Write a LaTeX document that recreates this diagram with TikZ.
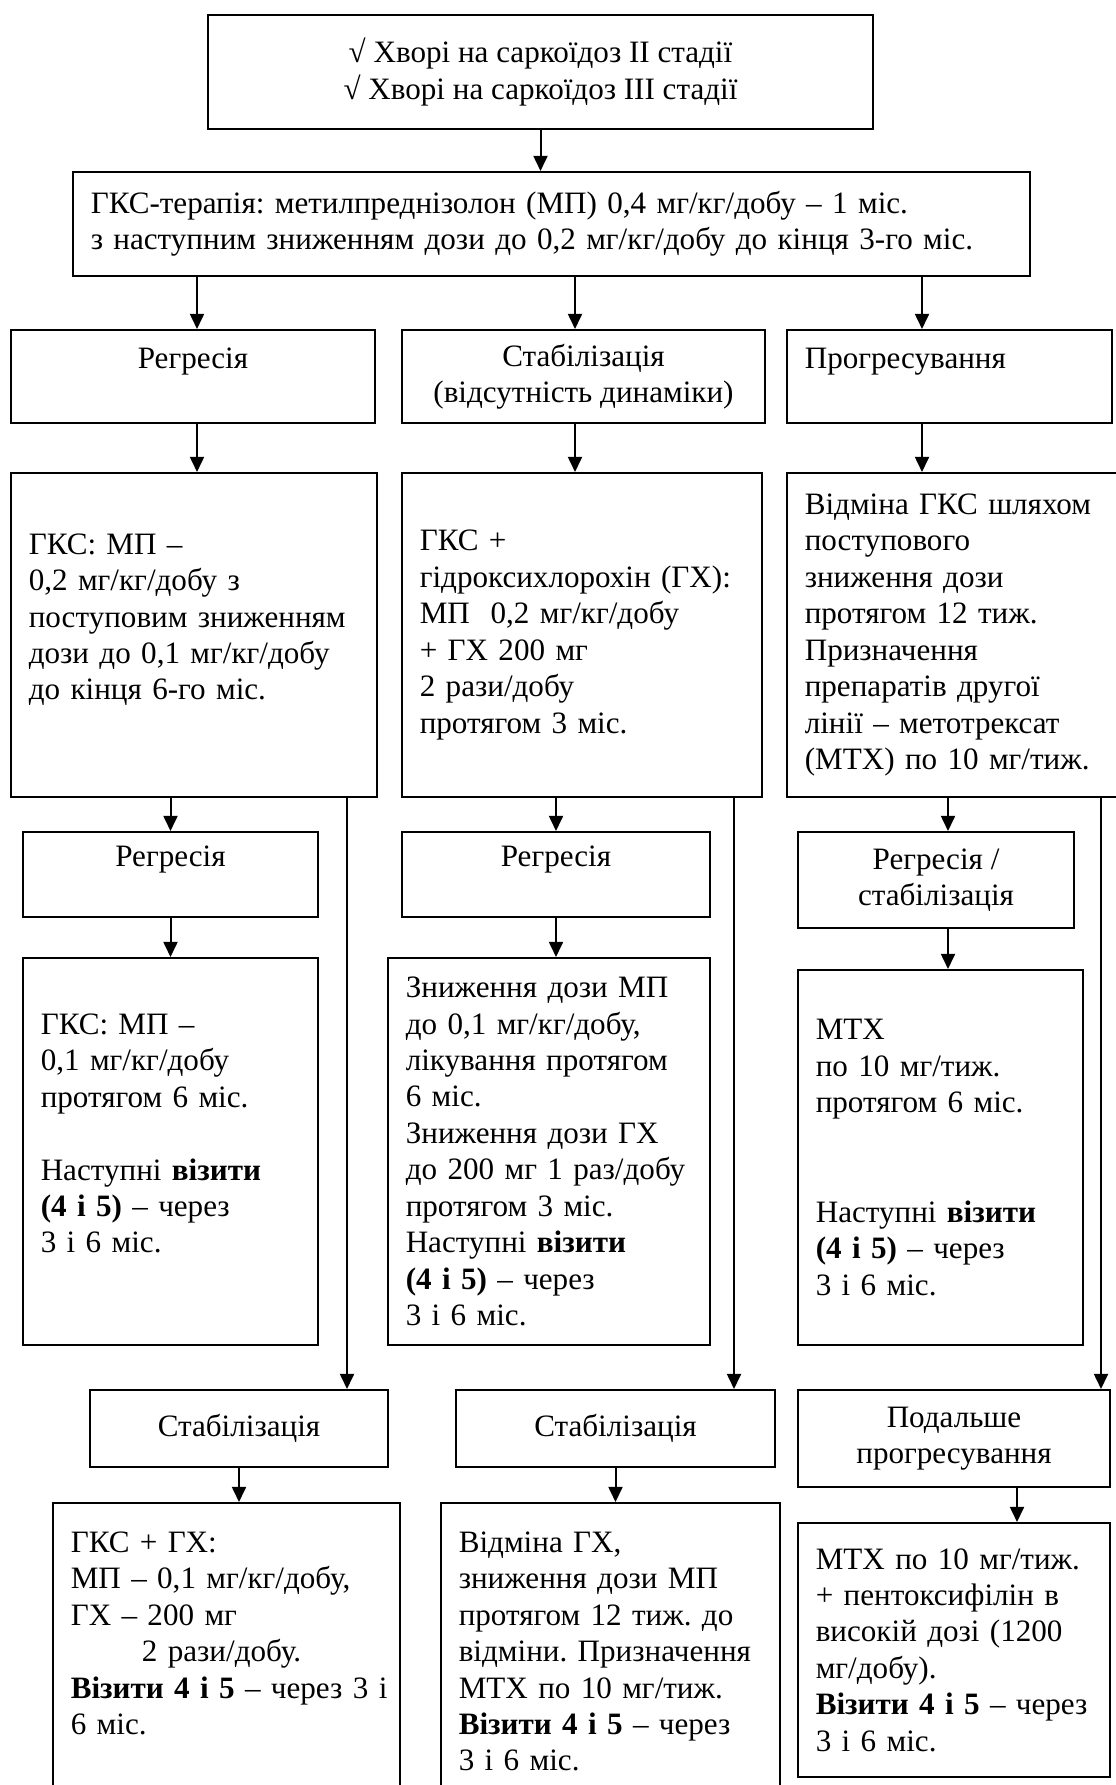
\documentclass[tikz,border=0pt]{standalone}
\usepackage{fontspec}
\setmainfont{Liberation Serif}
\frenchspacing
\usetikzlibrary{arrows.meta}
\tikzset{
  box/.style={draw,line width=.9pt,inner xsep=8pt,inner ysep=2pt,
    font=\fontsize{14}{16.4}\selectfont},
  lbox/.style={box,align=left},
  cbox/.style={box,align=center},
  arr/.style={line width=.9pt,-{Triangle[length=6.8pt,width=6.3pt]}}
}
\begin{document}
\begin{tikzpicture}[x=.45pt,y=-.45pt]
  \useasboundingbox (0,0) rectangle (1115,1785);
  % start and first course
  \node[cbox,minimum width=299.25pt,minimum height=51.3pt] (top) at (540.5,72)
    {√ Хворі на саркоїдоз II стадії\\√ Хворі на саркоїдоз III стадії};
  \node[lbox,text width=414.65pt,minimum height=46.8pt] (gks) at (551.5,224)
    {ГКС-терапія: метилпреднізолон (МП) 0,4 мг/кг/добу – 1 міс.\\
     з наступним зниженням дози до 0,2 мг/кг/добу до кінця 3-го міс.};
  % outcome after 3 months
  \node[cbox,minimum width=163.8pt,minimum height=41.85pt] (r3a) at (193,376.5)
    {Регресія\\\mbox{}};
  \node[cbox,minimum width=163.35pt,minimum height=41.85pt] (r3b) at (583.5,376.5)
    {Стабілізація\\(відсутність динаміки)};
  \node[lbox,text width=130.25pt,minimum height=41.85pt] (r3c) at (949.5,376.5)
    {Прогресування\\\mbox{}};
  % treatment
  \node[lbox,text width=148.7pt,minimum height=145.8pt] (r4a) at (194,635)
    {ГКС: МП –\\0,2 мг/кг/добу з\\поступовим зниженням\\дози до 0,1 мг/кг/добу\\
     до кінця 6-го міс.\\\mbox{}};
  \node[lbox,text width=146pt,minimum height=145.8pt] (r4b) at (582,635)
    {ГКС +\\гідроксихлорохін (ГХ):\\МП\ \ 0,2 мг/кг/добу\\+ ГХ 200 мг\\
     2 рази/добу\\протягом 3 міс.};
  \node[lbox,text width=136.1pt,minimum height=145.8pt] (r4c) at (956,635)
    {Відміна ГКС шляхом\\поступового\\зниження дози\\протягом 12 тиж.\\
     Призначення\\препаратів другої\\лінії – метотрексат\\(МТХ) по 10 мг/тиж.};
  % good response
  \node[cbox,minimum width=132.75pt,minimum height=38.25pt] (r5a) at (170.5,874.5)
    {Регресія\\\mbox{}};
  \node[cbox,minimum width=138.6pt,minimum height=38.25pt] (r5b) at (556,874.5)
    {Регресія\\\mbox{}};
  \node[cbox,minimum width=124.2pt,minimum height=43.2pt] (r5c) at (936,880)
    {Регресія /\\стабілізація};
  \node[lbox,text width=116.75pt,minimum height=174.15pt] (r6a) at (170.5,1151.5)
    {ГКС: МП –\\0,1 мг/кг/добу\\протягом 6 міс.\\\mbox{}\\
     Наступні \textbf{візити}\\\textbf{(4 і 5)} – через\\3 і 6 міс.\\\mbox{}};
  \node[lbox,text width=128.9pt,minimum height=174.15pt] (r6b) at (549,1151.5)
    {Зниження дози МП\\до 0,1 мг/кг/добу,\\лікування протягом\\6 міс.\\
     Зниження дози ГХ\\до 200 мг 1 раз/добу\\протягом 3 міс.\\
     Наступні \textbf{візити}\\\textbf{(4 і 5)} – через\\3 і 6 міс.};
  \node[lbox,text width=112.25pt,minimum height=168.75pt] (r6c) at (940.5,1157.5)
    {МТХ\\по 10 мг/тиж.\\протягом 6 міс.\\\mbox{}\\\mbox{}\\
     Наступні \textbf{візити}\\\textbf{(4 і 5)} – через\\3 і 6 міс.};
  % no response
  \node[cbox,minimum width=134.1pt,minimum height=34.65pt] (r7a) at (239,1428.5)
    {Стабілізація};
  \node[cbox,minimum width=143.55pt,minimum height=34.65pt] (r7b) at (615.5,1428.5)
    {Стабілізація};
  \node[cbox,minimum width=140.4pt,minimum height=43.65pt] (r7c) at (954,1438.5)
    {Подальше\\прогресування};
  \node[lbox,text width=140.15pt,minimum height=133.65pt] (r8a) at (226.5,1651.5)
    {ГКС + ГХ:\\МП – 0,1 мг/кг/добу,\\ГХ – 200 мг\\\hspace*{32pt}2 рази/добу.\\
     \mbox{\textbf{Візити 4 і 5} – через 3 і}\\6 міс.\\\mbox{}};
  \node[lbox,text width=136.55pt,minimum height=133.65pt] (r8b) at (610.5,1651.5)
    {Відміна ГХ,\\зниження дози МП\\протягом 12 тиж. до\\відміни. Призначення\\
     МТХ по 10 мг/тиж.\\\textbf{Візити 4 і 5} – через\\3 і 6 міс.};
  \node[lbox,text width=124.4pt,minimum height=114.3pt] (r8c) at (954,1650)
    {МТХ по 10 мг/тиж.\\+ пентоксифілін в\\високій дозі (1200\\мг/добу).\\
     \textbf{Візити 4 і 5} – через\\3 і 6 міс.};
  % columns of the connectors
  \coordinate (xa) at (197,0);
  \coordinate (xb) at (575,0);
  \coordinate (xc) at (922,0);
  \coordinate (xd) at (948,0);
  \coordinate (xe) at (1017,0);
  \coordinate (sa) at (347,0);
  \coordinate (sb) at (734,0);
  \coordinate (sc) at (1101,0);
  \draw[arr] (top.south) -- (top.south |- gks.north);
  \foreach \n/\c in {r3a/xa,r3b/xb,r3c/xc}{
    \draw[arr] (gks.south -| \c) -- (\n.north -| \c);}
  \draw[arr] (r3a.south -| xa) -- (r4a.north -| xa);
  \draw[arr] (r3b.south -| xb) -- (r4b.north -| xb);
  \draw[arr] (r3c.south -| xc) -- (r4c.north -| xc);
  \draw[arr] (r4a.south -| r5a) -- (r5a.north);
  \draw[arr] (r4b.south -| r5b) -- (r5b.north);
  \draw[arr] (r4c.south -| xd) -- (r5c.north -| xd);
  \draw[arr] (r5a.south) -- (r6a.north);
  \draw[arr] (r5b.south) -- (r5b.south |- r6b.north);
  \draw[arr] (r5c.south -| xd) -- (r6c.north -| xd);
  \draw[arr] (r4a.south -| sa) -- (r7a.north -| sa);
  \draw[arr] (r4b.south -| sb) -- (r7b.north -| sb);
  \draw[arr] (r4c.south -| sc) -- (r7c.north -| sc);
  \draw[arr] (r7a.south) -- (r7a.south |- r8a.north);
  \draw[arr] (r7b.south) -- (r7b.south |- r8b.north);
  \draw[arr] (r7c.south -| xe) -- (r8c.north -| xe);
\end{tikzpicture}
\end{document}
